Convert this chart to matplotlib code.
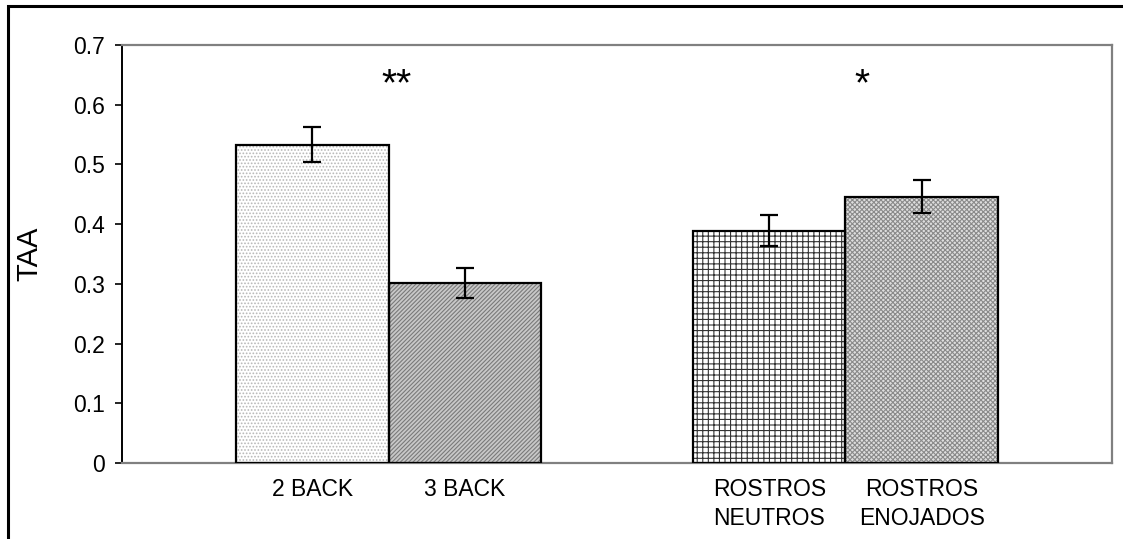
import matplotlib
matplotlib.use("Agg")
import matplotlib.pyplot as plt
from matplotlib.patches import Rectangle

plt.rcParams['font.family'] = ['Liberation Sans', 'DejaVu Sans']
plt.rcParams['hatch.linewidth'] = 0.8

categories = ["2 BACK", "3 BACK", "ROSTROS\nNEUTROS", "ROSTROS\nENOJADOS"]
values = [0.533, 0.302, 0.389, 0.446]
errors = [0.029, 0.025, 0.026, 0.028]
positions = [1.25, 2.25, 4.25, 5.25]
yticks = [0, 0.1, 0.2, 0.3, 0.4, 0.5, 0.6, 0.7]
ytick_labels = ["0", "0.1", "0.2", "0.3", "0.4", "0.5", "0.6", "0.7"]
sig_labels = ["**", "*"]
sig_x = [1.80, 4.86]
sig_y = [0.615, 0.615]

hatches = ['.....', '////////', '+++', 'xxxxxxx']
hatch_colors = ['#b8b8b8', '#7a7a7a', '#333333', '#8a8a8a']
face_colors = ['white', '#c8c8c8', 'white', '#dedede']

fig = plt.figure(figsize=(11.23, 5.39), dpi=100)
ax = fig.add_axes([122/1123, 1 - 463/539, (1112-122)/1123, (463-45)/539])

for p, v, h, hc, fc in zip(positions, values, hatches, hatch_colors, face_colors):
    ax.bar(p, v, width=1.0, facecolor=fc, edgecolor=hc, hatch=h, linewidth=0, zorder=2)
    ax.bar(p, v, width=1.0, fill=False, edgecolor='black', linewidth=1.6, zorder=3)

ax.errorbar(positions, values, yerr=errors, fmt='none', ecolor='black',
            elinewidth=1.6, capsize=6.5, capthick=1.6, zorder=4)

for s, x, y in zip(sig_labels, sig_x, sig_y):
    ax.text(x, y, s, ha='center', va='baseline', fontsize=28, color='black')

ax.set_xlim(0, 6.5)
ax.set_ylim(0, 0.7)
ax.set_yticks(yticks)
ax.set_yticklabels(ytick_labels, fontsize=16.5)
ax.set_xticks(positions)
ax.set_xticklabels(categories, fontsize=16.5, linespacing=1.3)
ax.tick_params(axis='x', length=0, pad=11)
ax.tick_params(axis='y', length=5, width=1.2, direction='out', pad=7)

for side in ['top', 'right', 'bottom']:
    ax.spines[side].set_color('#808080')
    ax.spines[side].set_linewidth(1.6)
ax.spines['left'].set_color('black')
ax.spines['left'].set_linewidth(1.4)

ax.set_ylabel("TAA", fontsize=21)
ax.yaxis.set_label_coords(-0.079, 0.5)

# outer border
fig.patches.append(Rectangle((8/1123, -0.1), 1.2, 1.1 - 6/539, transform=fig.transFigure,
                             fill=False, edgecolor='black', linewidth=2.2))

fig.savefig("out.png", dpi=100)
